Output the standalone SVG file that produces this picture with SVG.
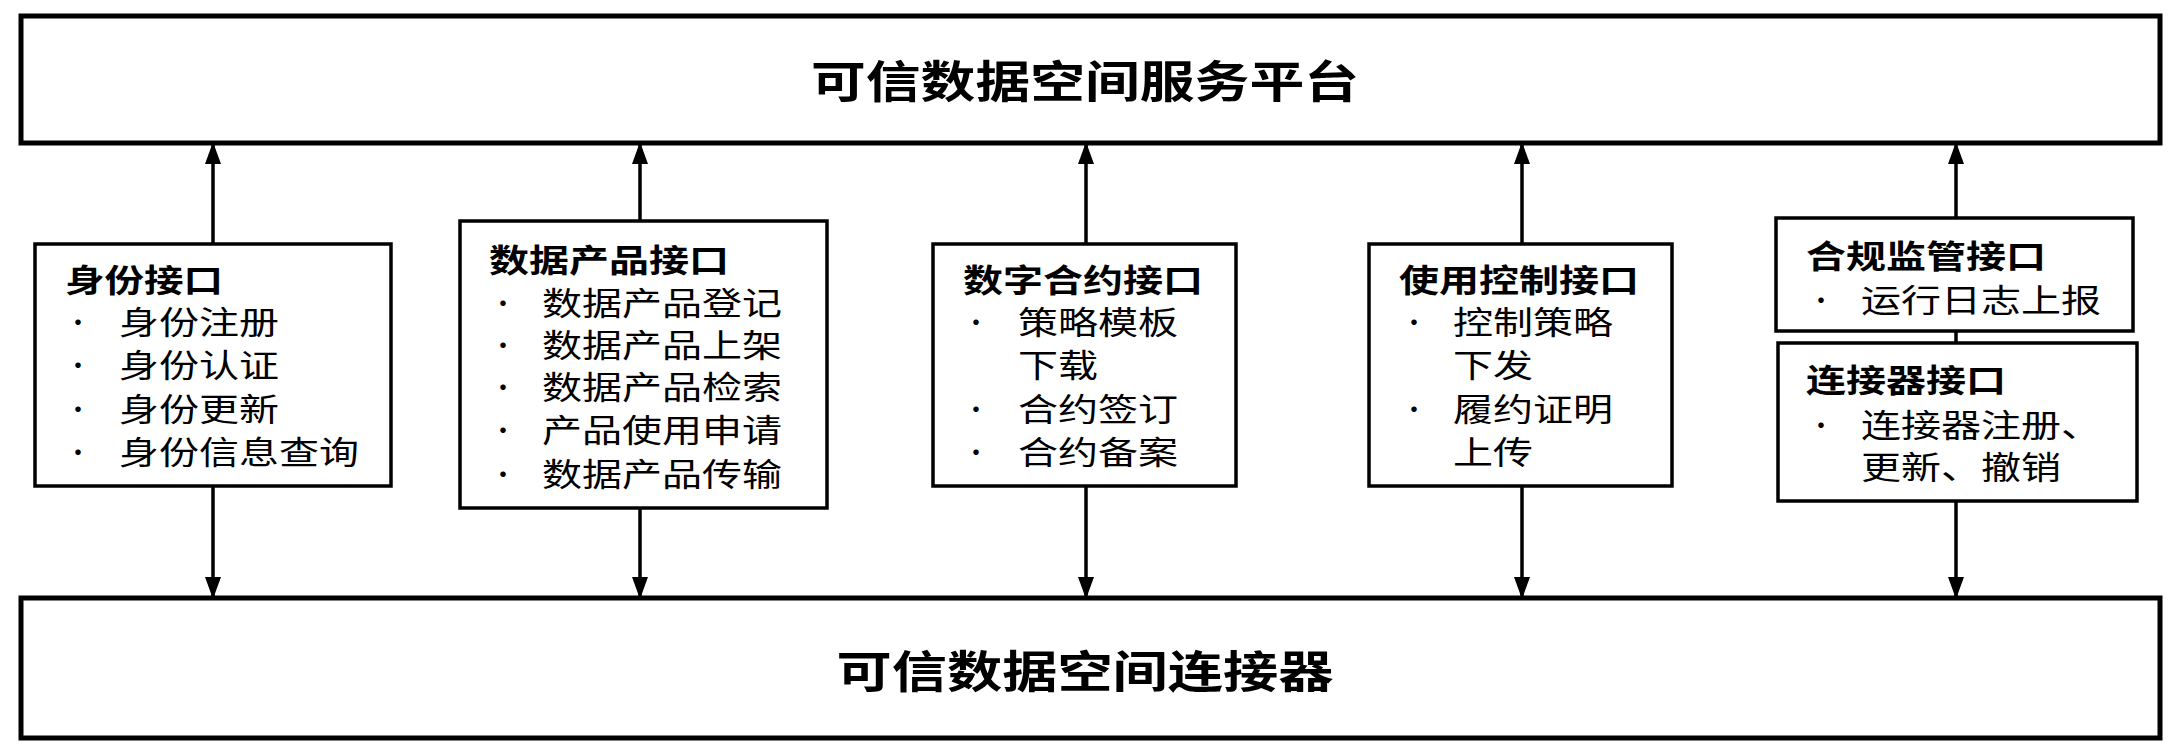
<svg xmlns="http://www.w3.org/2000/svg" width="2181" height="755" viewBox="0 0 2181 755">
<style>
.big{fill:#fff;stroke:#000;stroke-width:5}
.box{fill:#fff;stroke:#000;stroke-width:3.5}
text{font-family:"Noto Sans CJK SC","Liberation Sans",sans-serif;fill:#000;dominant-baseline:central}
.t{font-size:44px;font-weight:bold;text-anchor:middle}
.h{font-size:32px;font-weight:bold}
.i{font-size:32px}
.b{font-size:26px}
.c{stroke:#000;stroke-width:3.5;fill:none}
</style>
<defs>
<marker id="a" viewBox="0 0 16 22" refX="15" refY="8" markerWidth="16" markerHeight="22" markerUnits="userSpaceOnUse" orient="auto"><path d="M0,0 L22,8 L0,16 Z" fill="#000" transform="scale(0.75,1)"/></marker>
<marker id="ar" viewBox="0 0 22 16" refX="21" refY="8" markerWidth="22" markerHeight="16" markerUnits="userSpaceOnUse" orient="auto"><path d="M0,0 L22,8 L0,16 Z" fill="#000"/></marker>
</defs>
<g id="platform"><rect class="big" x="21" y="16" width="2139" height="127"/><text class="t" x="1085" y="79" textLength="548" lengthAdjust="spacingAndGlyphs">可信数据空间服务平台</text></g>
<g id="connector"><rect class="big" x="21" y="598" width="2139" height="140"/><text class="t" x="1085" y="669" textLength="497" lengthAdjust="spacingAndGlyphs">可信数据空间连接器</text></g>
<g id="connectors">
<line class="c" x1="213" y1="244" x2="213" y2="143" marker-end="url(#ar)"/>
<line class="c" x1="213" y1="486" x2="213" y2="598" marker-end="url(#ar)"/>
<line class="c" x1="640" y1="221" x2="640" y2="143" marker-end="url(#ar)"/>
<line class="c" x1="640" y1="508" x2="640" y2="598" marker-end="url(#ar)"/>
<line class="c" x1="1086" y1="244" x2="1086" y2="143" marker-end="url(#ar)"/>
<line class="c" x1="1086" y1="486" x2="1086" y2="598" marker-end="url(#ar)"/>
<line class="c" x1="1522" y1="244" x2="1522" y2="143" marker-end="url(#ar)"/>
<line class="c" x1="1522" y1="486" x2="1522" y2="598" marker-end="url(#ar)"/>
<line class="c" x1="1956" y1="218" x2="1956" y2="143" marker-end="url(#ar)"/>
<line class="c" x1="1956" y1="331" x2="1956" y2="343"/>
<line class="c" x1="1956" y1="501" x2="1956" y2="598" marker-end="url(#ar)"/>
</g>
<g id="identity"><rect class="box" x="35" y="244" width="356" height="242"/>
<text class="h" x="65" y="278" textLength="158" lengthAdjust="spacingAndGlyphs">身份接口</text>
<text class="b" x="65" y="320">•</text><text class="i" x="119" y="320" textLength="160" lengthAdjust="spacingAndGlyphs">身份注册</text>
<text class="b" x="65" y="363">•</text><text class="i" x="119" y="363" textLength="160" lengthAdjust="spacingAndGlyphs">身份认证</text>
<text class="b" x="65" y="407">•</text><text class="i" x="119" y="407" textLength="160" lengthAdjust="spacingAndGlyphs">身份更新</text>
<text class="b" x="65" y="450">•</text><text class="i" x="119" y="450" textLength="240" lengthAdjust="spacingAndGlyphs">身份信息查询</text>
</g>
<g id="dataproduct"><rect class="box" x="460" y="221" width="367" height="287"/>
<text class="h" x="489" y="258" textLength="240" lengthAdjust="spacingAndGlyphs">数据产品接口</text>
<text class="b" x="490" y="301">•</text><text class="i" x="542" y="301" textLength="240" lengthAdjust="spacingAndGlyphs">数据产品登记</text>
<text class="b" x="490" y="343">•</text><text class="i" x="542" y="343" textLength="240" lengthAdjust="spacingAndGlyphs">数据产品上架</text>
<text class="b" x="490" y="385">•</text><text class="i" x="542" y="385" textLength="240" lengthAdjust="spacingAndGlyphs">数据产品检索</text>
<text class="b" x="490" y="428">•</text><text class="i" x="542" y="428" textLength="240" lengthAdjust="spacingAndGlyphs">产品使用申请</text>
<text class="b" x="490" y="472">•</text><text class="i" x="542" y="472" textLength="240" lengthAdjust="spacingAndGlyphs">数据产品传输</text>
</g>
<g id="contract"><rect class="box" x="933" y="244" width="303" height="242"/>
<text class="h" x="963" y="278" textLength="240" lengthAdjust="spacingAndGlyphs">数字合约接口</text>
<text class="b" x="963" y="320">•</text><text class="i" x="1018" y="320" textLength="160" lengthAdjust="spacingAndGlyphs">策略模板</text>
<text class="i" x="1018" y="363" textLength="80" lengthAdjust="spacingAndGlyphs">下载</text>
<text class="b" x="963" y="407">•</text><text class="i" x="1018" y="407" textLength="160" lengthAdjust="spacingAndGlyphs">合约签订</text>
<text class="b" x="963" y="450">•</text><text class="i" x="1018" y="450" textLength="160" lengthAdjust="spacingAndGlyphs">合约备案</text>
</g>
<g id="usage"><rect class="box" x="1369" y="244" width="303" height="242"/>
<text class="h" x="1399" y="278" textLength="240" lengthAdjust="spacingAndGlyphs">使用控制接口</text>
<text class="b" x="1401" y="320">•</text><text class="i" x="1453" y="320" textLength="160" lengthAdjust="spacingAndGlyphs">控制策略</text>
<text class="i" x="1453" y="363" textLength="80" lengthAdjust="spacingAndGlyphs">下发</text>
<text class="b" x="1401" y="407">•</text><text class="i" x="1453" y="407" textLength="160" lengthAdjust="spacingAndGlyphs">履约证明</text>
<text class="i" x="1453" y="450" textLength="80" lengthAdjust="spacingAndGlyphs">上传</text>
</g>
<g id="compliance"><rect class="box" x="1776" y="218" width="357" height="113"/>
<text class="h" x="1806" y="254" textLength="240" lengthAdjust="spacingAndGlyphs">合规监管接口</text>
<text class="b" x="1808" y="298">•</text><text class="i" x="1861" y="298" textLength="240" lengthAdjust="spacingAndGlyphs">运行日志上报</text>
</g>
<g id="connectorif"><rect class="box" x="1778" y="343" width="359" height="158"/>
<text class="h" x="1806" y="378" textLength="200" lengthAdjust="spacingAndGlyphs">连接器接口</text>
<text class="b" x="1808" y="423">•</text><text class="i" x="1861" y="423" textLength="240" lengthAdjust="spacingAndGlyphs">连接器注册、</text>
<text class="i" x="1861" y="465" textLength="200" lengthAdjust="spacingAndGlyphs">更新、撤销</text>
</g>
</svg>
